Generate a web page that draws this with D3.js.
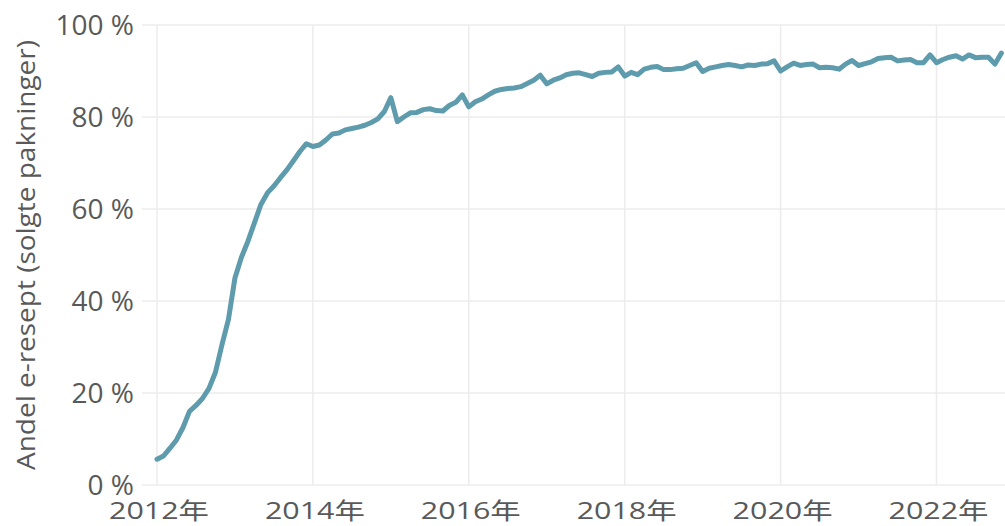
<!DOCTYPE html>
<html>
<head>
<meta charset="utf-8">
<script src="https://cdn.jsdelivr.net/npm/d3@7"></script>
<style>
  html, body { margin: 0; padding: 0; background: #fff; overflow: hidden; }
  svg { display: block; }
</style>
</head>
<body>
<div id="chart"></div>
<script>
// Andel e-resept, monthly from Jan 2012
const startYear = 2012;
const startMonth = 0;
const share = [
  5.6, 6.3, 8.0, 9.8, 12.5, 16.0, 17.3, 18.8, 21.0, 24.5, 30.5, 36.0,
  45.0, 49.5, 53.0, 57.0, 61.0, 63.5, 65.0, 66.8, 68.5, 70.5, 72.5, 74.2,
  73.6, 73.9, 75.0, 76.3, 76.5, 77.2, 77.5, 77.8, 78.2, 78.8, 79.6, 81.2,
  84.2, 79.0, 80.0, 80.9, 81.0, 81.6, 81.8, 81.4, 81.3, 82.5, 83.2, 84.8,
  82.2, 83.3, 83.9, 84.8, 85.6, 86.0, 86.2, 86.3, 86.6, 87.3, 88.0, 89.1,
  87.2, 88.0, 88.5, 89.2, 89.5, 89.6, 89.2, 88.8, 89.5, 89.7, 89.8, 90.9,
  88.9, 89.7, 89.2, 90.4, 90.8, 91.0, 90.3, 90.3, 90.5, 90.6, 91.2, 91.8,
  89.9, 90.6, 90.9, 91.2, 91.4, 91.2, 90.9, 91.3, 91.2, 91.5, 91.6, 92.2,
  90.0, 90.9, 91.7, 91.2, 91.4, 91.5, 90.7, 90.8, 90.7, 90.4, 91.5, 92.3,
  91.2, 91.6, 92.0, 92.7, 92.9, 93.0, 92.2, 92.4, 92.5, 91.8, 91.8, 93.5,
  91.8, 92.5, 93.0, 93.3, 92.6, 93.5, 92.9, 93.0, 93.0, 91.5, 93.9
];
const yearTicks = [2012, 2014, 2016, 2018, 2020, 2022];
const pctTicks = [0, 20, 40, 60, 80, 100];
const yTitle = "Andel e-resept (solgte pakninger)";

const W = 1005, H = 526;
const margin = { top: 25, right: 0, bottom: 41, left: 157 };

const data = share.map((v, i) => ({ t: startYear + (startMonth + i) / 12, v: v }));

const svg = d3.select("#chart").append("svg")
  .attr("width", W).attr("height", H)
  .style("font-family", "'Open Sans', 'Noto Sans CJK SC', sans-serif");

const x = d3.scaleLinear().domain([2012, 2022]).range([margin.left, 936.5]);
const y = d3.scaleLinear().domain([0, 100]).range([H - margin.bottom, margin.top]);

// Grid lines
svg.append("g").selectAll("line").data(pctTicks).enter().append("line")
  .attr("x1", margin.left - 15).attr("x2", W)
  .attr("y1", d => y(d)).attr("y2", d => y(d))
  .attr("stroke", "#ececec").attr("stroke-width", 1.5);

svg.append("g").selectAll("line").data(yearTicks).enter().append("line")
  .attr("x1", d => x(d)).attr("x2", d => x(d))
  .attr("y1", margin.top).attr("y2", H - margin.bottom)
  .attr("stroke", "#ececec").attr("stroke-width", 1.5);

// Y tick labels
svg.append("g").selectAll("text").data(pctTicks).enter().append("text")
  .attr("x", 134).attr("y", d => y(d)).attr("dy", "0.36em")
  .attr("text-anchor", "end")
  .style("font-size", "28px").attr("fill", "#595959")
  .text(d => d + " %");

// X tick labels
svg.append("g").selectAll("text").data(yearTicks).enter().append("text")
  .attr("x", d => x(d) - 48).attr("y", 519)
  .attr("textLength", 100).attr("lengthAdjust", "spacingAndGlyphs")
  .style("font-size", "23px").attr("fill", "#595959")
  .text(d => d + "年");

// Y axis title
svg.append("text")
  .attr("transform", `translate(35,${(40 + 470) / 2}) rotate(-90)`)
  .attr("text-anchor", "middle")
  .attr("textLength", 430).attr("lengthAdjust", "spacingAndGlyphs")
  .style("font-size", "25px").attr("fill", "#595959")
  .text(yTitle);

// Line
const line = d3.line().x(d => x(d.t)).y(d => y(d.v));
svg.append("path").datum(data)
  .attr("d", line)
  .attr("fill", "none")
  .attr("stroke", "#5e9cad")
  .attr("stroke-width", 5)
  .attr("stroke-linejoin", "round")
  .attr("stroke-linecap", "round");
</script>
</body>
</html>
